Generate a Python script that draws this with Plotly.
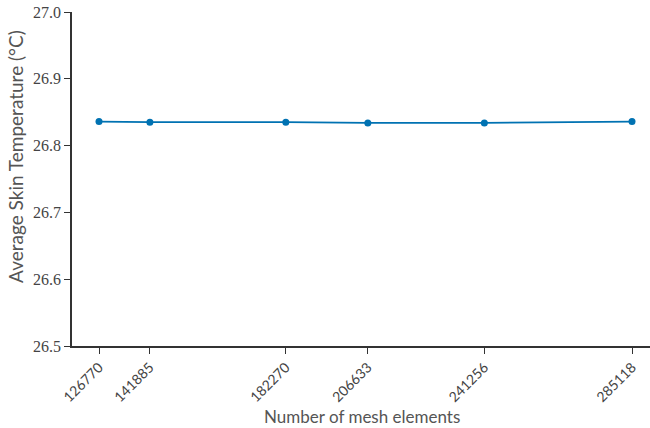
import plotly.graph_objects as go

mesh_elements = [126770, 141885, 182270, 206633, 241256, 285118]
avg_skin_temp = [26.836, 26.835, 26.835, 26.834, 26.834, 26.836]
y_ticks = [26.5, 26.6, 26.7, 26.8, 26.9, 27.0]

color = "#0072B2"
fig = go.Figure()
fig.add_trace(go.Scatter(
    x=mesh_elements, y=avg_skin_temp, mode="lines+markers",
    line=dict(color=color, width=1.8),
    marker=dict(color=color, size=7),
    showlegend=False,
))

ytick_font = dict(family="Liberation Serif, DejaVu Serif, serif", size=16, color="#444444")
xtick_font = dict(family="Lato, Open Sans, sans-serif", size=14, color="#444444")
title_font = dict(family="Lato, Open Sans, sans-serif", size=17, color="#555555")

fig.update_layout(
    width=650, height=428,
    margin=dict(l=72, r=0, t=12, b=82),
    plot_bgcolor="white", paper_bgcolor="white",
    xaxis=dict(
        automargin=False,
        range=[118749, 290466],
        tickmode="array", tickvals=mesh_elements,
        ticktext=[str(v) for v in mesh_elements],
        tickangle=-45, ticks="outside", ticklen=6, tickwidth=1.2, tickcolor="#333333",
        showline=True, linecolor="#333333", linewidth=1.5,
        showgrid=False, zeroline=False,
        tickfont=xtick_font,
    ),
    yaxis=dict(
        automargin=False,
        range=[26.5, 27.0],
        tickmode="array", tickvals=y_ticks,
        ticktext=[f"{v:.1f}" for v in y_ticks],
        ticks="outside", ticklen=6, tickwidth=1.2, tickcolor="#333333",
        showline=True, linecolor="#333333", linewidth=1.5,
        showgrid=False, zeroline=False,
        tickfont=ytick_font,
    ),
    annotations=[
        dict(text="Number of mesh elements", xref="paper", yref="paper",
             x=0.5017, y=-0.212, xanchor="center", yanchor="middle",
             showarrow=False, font=title_font),
        dict(text="Average Skin Temperature (°C)", xref="paper", yref="paper",
             x=-0.097, y=0.569, xanchor="center", yanchor="middle",
             textangle=-90, showarrow=False, font=dict(title_font, size=19)),
    ],
)

fig.write_html("out.html", config={"displayModeBar": False},
               post_script="document.body.style.margin='0';document.body.style.overflow='hidden';")
